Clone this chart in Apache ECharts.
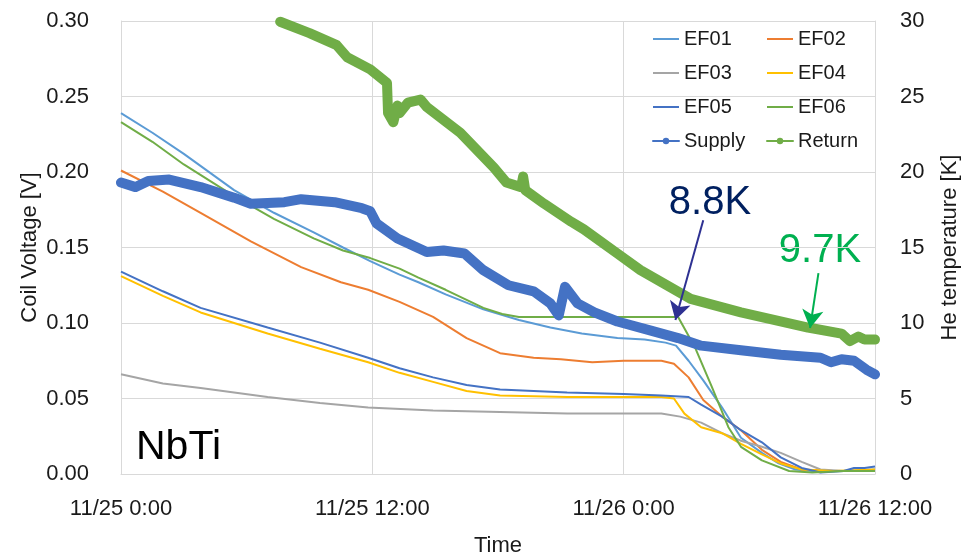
<!DOCTYPE html>
<html>
<head>
<meta charset="utf-8">
<script src="https://cdn.jsdelivr.net/npm/echarts@6/dist/echarts.min.js"></script>
<style>
html,body{margin:0;padding:0;background:#fff;}
#chart{width:963px;height:554px;}
</style>
</head>
<body>
<div id="chart"></div>
<script>
// ---- data (x = hours since 11/25 0:00) ----
var timeTickLabels = ['11/25 0:00', '11/25 12:00', '11/26 0:00', '11/26 12:00'];

var ef01 = [[0,0.239],[1.5,0.226],[3,0.212],[5.4,0.188],[7.3,0.173],[9.2,0.160],[10.6,0.150],[11.9,0.141],[13.3,0.132],[14.2,0.127],[15.5,0.119],[17.3,0.109],[19,0.102],[20.5,0.097],[22,0.093],[23.7,0.090],[25,0.089],[26,0.087],[26.5,0.085],[27.1,0.075],[27.8,0.062],[28.7,0.044],[29.6,0.024],[30.6,0.014],[31.4,0.007],[32.2,0.003],[33,0.002],[34.5,0.002],[36,0.003]];
var ef02 = [[0,0.201],[2,0.187],[3.8,0.173],[6.2,0.154],[8.6,0.137],[10.5,0.127],[11.8,0.122],[13.3,0.114],[14.9,0.104],[16.5,0.090],[18.1,0.080],[19.7,0.077],[21,0.076],[22.5,0.074],[24,0.075],[25.8,0.075],[26.4,0.073],[27.1,0.064],[27.8,0.049],[28.7,0.038],[29.6,0.029],[30.6,0.016],[31.5,0.008],[32.5,0.003],[34,0.002],[36,0.002]];
var ef03 = [[0,0.066],[2,0.060],[3.8,0.057],[7,0.051],[9.5,0.047],[11.8,0.044],[14.9,0.042],[18.1,0.041],[21.3,0.040],[24,0.040],[25.8,0.040],[26.7,0.038],[27.7,0.034],[28.7,0.027],[29.6,0.022],[30.6,0.018],[31.5,0.014],[32.5,0.008],[33.4,0.003],[34.5,0.002],[36,0.002]];
var ef04 = [[0,0.131],[2,0.118],[3.8,0.107],[7,0.093],[9.5,0.083],[11.8,0.074],[13.3,0.067],[14.9,0.061],[16.5,0.055],[18.1,0.052],[21.3,0.051],[24,0.051],[25.8,0.051],[26.4,0.050],[26.9,0.040],[27.7,0.031],[28.7,0.027],[29.6,0.020],[30.6,0.013],[31.5,0.007],[32.5,0.003],[34,0.002],[36,0.003]];
var ef05 = [[0,0.134],[2,0.121],[3.8,0.110],[7,0.097],[9.5,0.087],[11.8,0.077],[13.3,0.070],[14.9,0.064],[16.5,0.059],[18.1,0.056],[21.3,0.054],[24,0.053],[25.8,0.052],[27.1,0.051],[27.7,0.046],[28.7,0.038],[29.6,0.029],[30.6,0.021],[31.5,0.011],[32.5,0.004],[33.4,0.001],[34.5,0.002],[35,0.004],[35.5,0.004],[36,0.005]];
var ef06 = [[0,0.233],[1.5,0.220],[3,0.205],[5.4,0.184],[7.3,0.169],[9.2,0.156],[10.6,0.148],[11.9,0.143],[13.3,0.136],[14.2,0.130],[15.5,0.122],[16.4,0.116],[17.3,0.110],[18.2,0.106],[19,0.104],[20.5,0.104],[22,0.104],[24,0.104],[25.5,0.104],[26.6,0.104],[27.4,0.084],[28.2,0.058],[29,0.031],[29.6,0.018],[30.6,0.009],[31.9,0.002],[33,0.001],[34.5,0.002],[36,0.002]];
var supplyK = [[0,19.3],[0.7,19.0],[1.3,19.4],[2.3,19.5],[3.8,19.0],[5.4,18.3],[6.2,17.9],[7.8,18.0],[8.6,18.2],[10.2,18.0],[11.5,17.6],[11.9,17.4],[12.2,16.6],[13.2,15.6],[14.6,14.7],[15.4,14.8],[16.4,14.6],[17.3,13.5],[18.5,12.5],[19.7,12.1],[20.5,11.3],[20.9,10.5],[21.2,12.4],[21.8,11.3],[22.6,10.7],[23.7,10.1],[25.3,9.5],[26.6,9.0],[27.7,8.5],[29.6,8.2],[31.5,7.9],[33.4,7.7],[33.9,7.4],[34.4,7.6],[35,7.5],[35.6,6.9],[36,6.6]];
var returnK = [[7.6,29.95],[9,29.2],[10.3,28.4],[10.8,27.6],[11.9,26.8],[12.7,25.9],[12.75,23.9],[13.0,23.3],[13.2,24.4],[13.3,23.9],[13.7,24.6],[14.3,24.8],[14.6,24.3],[16.2,22.6],[17.8,20.3],[18.4,19.3],[19.1,19.0],[19.2,19.7],[19.3,18.8],[20.2,17.9],[21.5,16.7],[22.1,16.2],[23.7,14.6],[24.8,13.5],[26.7,12.0],[27.2,11.6],[29.6,10.7],[32.8,9.7],[34.4,9.3],[34.8,8.8],[35.2,9.1],[35.5,8.9],[36,8.9]];

// annotation arrows (data coords: hours, K)
var arrowSupply = [[27.8,16.8],[26.47,10.2]];
var arrowReturn = [[33.3,13.3],[32.9,9.67]];

var FONT = '"Liberation Sans", Arial, sans-serif';
var chart = echarts.init(document.getElementById('chart'), null, {renderer:'canvas'});

function efSeries(name, data, color){
  return {
    name: name, type: 'line', data: data, yAxisIndex: 0,
    symbol: 'circle', showSymbol: false, smooth: false,
    lineStyle: {color: color, width: 2},
    itemStyle: {color: color},
    emphasis: {disabled: true}
  };
}
function tempSeries(name, data, color, arrow, arrowColor){
  return {
    name: name, type: 'line', data: data, yAxisIndex: 1,
    symbol: 'circle', showSymbol: false,
    lineStyle: {color: color, width: 10, cap: 'round', join: 'round'},
    itemStyle: {color: color},
    emphasis: {disabled: true},
    markLine: {
      silent: true, animation: false,
      symbol: ['none', 'arrow'], symbolSize: [16, 18],
      label: {show: false},
      lineStyle: {color: arrowColor, width: 2, type: 'solid'},
      data: [[{coord: arrow[0]}, {coord: arrow[1]}]]
    }
  };
}

var legendText = {fontSize: 20, lineHeight: 24, color: '#1a1a1a', fontFamily: FONT};
var hideSym = {opacity: 0};

chart.setOption({
  animation: false,
  backgroundColor: '#fff',
  grid: {left: 121, right: 88, top: 21, bottom: 80, outerBoundsMode: 'none', containLabel: false},
  legend: [
    {left: 652, top: 27, orient: 'vertical', itemWidth: 26, itemHeight: 8, itemGap: 10, padding: 0,
     textStyle: legendText, lineStyle: {width: 2}, selectedMode: false,
     data: [{name:'EF01', itemStyle: hideSym}, {name:'EF03', itemStyle: hideSym}, {name:'EF05', itemStyle: hideSym}, 'Supply']},
    {left: 766, top: 27, orient: 'vertical', itemWidth: 26, itemHeight: 8, itemGap: 10, padding: 0,
     textStyle: legendText, lineStyle: {width: 2}, selectedMode: false,
     data: [{name:'EF02', itemStyle: hideSym}, {name:'EF04', itemStyle: hideSym}, {name:'EF06', itemStyle: hideSym}, 'Return']}
  ],
  xAxis: {
    type: 'value', min: 0, max: 36, interval: 12,
    name: 'Time', nameLocation: 'middle', nameGap: 61, nameMoveOverlap: false,
    nameTextStyle: {fontSize: 22, color: '#1a1a1a', fontFamily: FONT},
    axisLine: {show: true, lineStyle: {color: '#D9D9D9', width: 1}},
    axisTick: {show: false},
    splitLine: {show: true, lineStyle: {color: '#D9D9D9', width: 1}},
    axisLabel: {
      margin: 24, fontSize: 22, color: '#1a1a1a', fontFamily: FONT,
      formatter: function(v){ return timeTickLabels[Math.round(v/12)] || ''; }
    }
  },
  yAxis: [
    {
      type: 'value', min: 0, max: 0.30, interval: 0.05, position: 'left',
      name: 'Coil Voltage [V]', nameLocation: 'middle', nameGap: 80, nameRotate: 90, nameMoveOverlap: false,
      nameTextStyle: {fontSize: 22, color: '#1a1a1a', fontFamily: FONT},
      axisLine: {show: true, lineStyle: {color: '#D9D9D9', width: 1}},
      axisTick: {show: false},
      splitLine: {show: true, lineStyle: {color: '#D9D9D9', width: 1}},
      axisLabel: {margin: 32, fontSize: 22, color: '#1a1a1a', fontFamily: FONT,
        formatter: function(v){ return v.toFixed(2); }}
    },
    {
      type: 'value', min: 0, max: 30, interval: 5, position: 'right',
      name: 'He temperature [K]', nameLocation: 'middle', nameGap: 64, nameRotate: 90, nameMoveOverlap: false,
      nameTextStyle: {fontSize: 22, color: '#1a1a1a', fontFamily: FONT},
      axisLine: {show: true, lineStyle: {color: '#D9D9D9', width: 1}},
      axisTick: {show: false},
      splitLine: {show: false},
      axisLabel: {margin: 25, fontSize: 22, color: '#1a1a1a', fontFamily: FONT}
    }
  ],
  graphic: [
    {type: 'text', left: 136, top: 427, style: {text: 'NbTi', fontSize: 41, fill: '#000', fontFamily: FONT}},
    {type: 'text', x: 710, y: 203, style: {text: '8.8K', fontSize: 40, fill: '#002060', fontFamily: FONT, align: 'center', verticalAlign: 'middle'}},
    {type: 'text', x: 820, y: 251, style: {text: '9.7K', fontSize: 40, fill: '#00B050', fontFamily: FONT, align: 'center', verticalAlign: 'middle'}}
  ],
  series: [
    efSeries('EF01', ef01, '#5B9BD5'),
    efSeries('EF02', ef02, '#ED7D31'),
    efSeries('EF03', ef03, '#A5A5A5'),
    efSeries('EF04', ef04, '#FFC000'),
    efSeries('EF05', ef05, '#4472C4'),
    efSeries('EF06', ef06, '#70AD47'),
    tempSeries('Supply', supplyK, '#4472C4', arrowSupply, '#2E3192'),
    tempSeries('Return', returnK, '#70AD47', arrowReturn, '#00B050')
  ]
});
</script>
</body>
</html>
